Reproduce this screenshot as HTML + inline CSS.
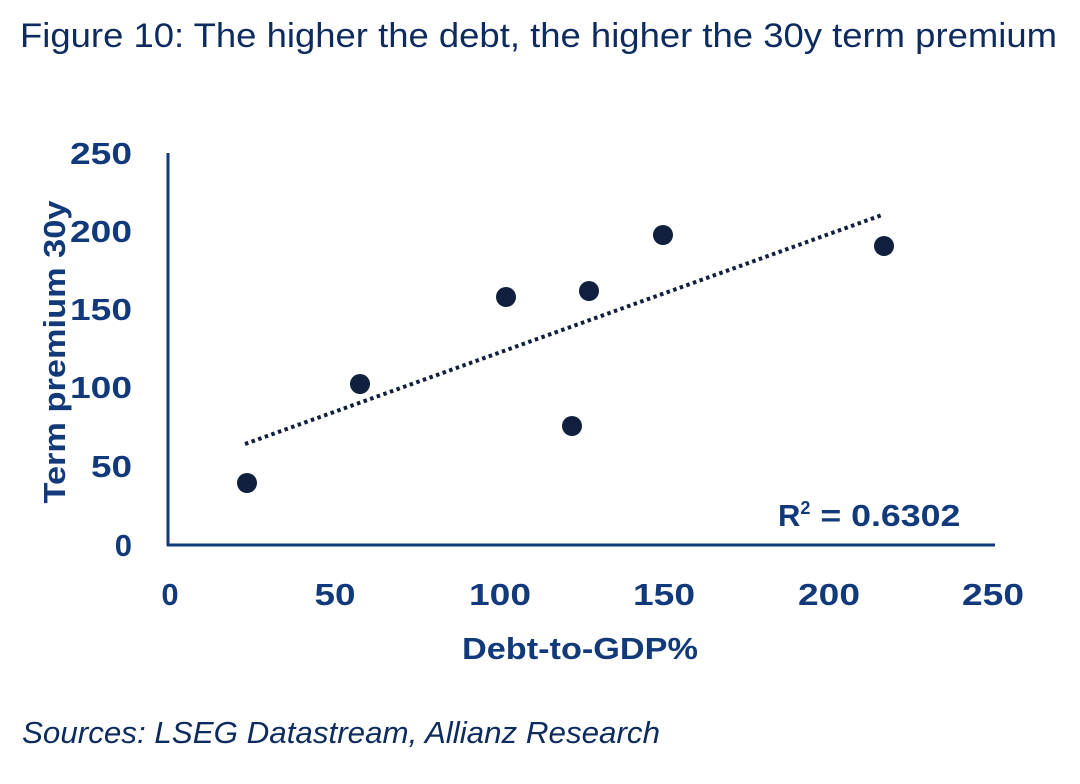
<!DOCTYPE html>
<html><head><meta charset="utf-8"><style>
html,body{margin:0;padding:0;background:#fff;}
body{width:1080px;height:784px;overflow:hidden;position:relative;font-family:"Liberation Sans",sans-serif;}
</style></head><body>
<svg width="1080" height="784" xmlns="http://www.w3.org/2000/svg" style="position:absolute;left:0;top:0">
<text x="20" y="47" font-family="Liberation Sans, sans-serif" font-size="34" fill="#0d2b5e" textLength="1037" lengthAdjust="spacingAndGlyphs">Figure 10: The higher the debt, the higher the 30y term premium</text>
<g font-family="Liberation Sans, sans-serif" font-weight="bold" font-size="31" fill="#123a7a">
<text x="132" y="164" text-anchor="end" textLength="62" lengthAdjust="spacingAndGlyphs">250</text>
<text x="132" y="242" text-anchor="end" textLength="62" lengthAdjust="spacingAndGlyphs">200</text>
<text x="132" y="320" text-anchor="end" textLength="62" lengthAdjust="spacingAndGlyphs">150</text>
<text x="132" y="398" text-anchor="end" textLength="62" lengthAdjust="spacingAndGlyphs">100</text>
<text x="132" y="477" text-anchor="end" textLength="41" lengthAdjust="spacingAndGlyphs">50</text>
<text x="132" y="556" text-anchor="end">0</text>
<text x="170" y="605" text-anchor="middle">0</text>
<text x="335" y="605" text-anchor="middle" textLength="41" lengthAdjust="spacingAndGlyphs">50</text>
<text x="500" y="605" text-anchor="middle" textLength="62" lengthAdjust="spacingAndGlyphs">100</text>
<text x="664" y="605" text-anchor="middle" textLength="62" lengthAdjust="spacingAndGlyphs">150</text>
<text x="829" y="605" text-anchor="middle" textLength="62" lengthAdjust="spacingAndGlyphs">200</text>
<text x="993" y="605" text-anchor="middle" textLength="62" lengthAdjust="spacingAndGlyphs">250</text>
<text x="580" y="659" text-anchor="middle" textLength="236" lengthAdjust="spacingAndGlyphs">Debt-to-GDP%</text>
<text transform="translate(65,352) rotate(-90)" text-anchor="middle" textLength="303" lengthAdjust="spacingAndGlyphs">Term premium 30y</text>
<text x="778" y="526">R<tspan font-size="18" dy="-12">2</tspan><tspan dy="12" textLength="150" lengthAdjust="spacingAndGlyphs"> = 0.6302</tspan></text>
</g>
<line x1="168" y1="153" x2="168" y2="546" stroke="#123a7a" stroke-width="3"/>
<line x1="167" y1="545" x2="995" y2="545" stroke="#123a7a" stroke-width="3"/>
<line x1="245" y1="444" x2="882" y2="215" stroke="#0f1f3d" stroke-width="4" stroke-dasharray="3.5 3.5"/>
<g fill="#0f1f3d">
<circle cx="247" cy="483" r="10"/>
<circle cx="360" cy="384" r="10"/>
<circle cx="506" cy="297" r="10"/>
<circle cx="589" cy="291" r="10"/>
<circle cx="572" cy="426" r="10"/>
<circle cx="663" cy="235" r="10"/>
<circle cx="884" cy="246" r="10"/>
</g>
<text x="22" y="743" font-family="Liberation Sans, sans-serif" font-style="italic" font-size="31" fill="#0d2b5e" textLength="638" lengthAdjust="spacingAndGlyphs">Sources: LSEG Datastream, Allianz Research</text>
</svg>
</body></html>
